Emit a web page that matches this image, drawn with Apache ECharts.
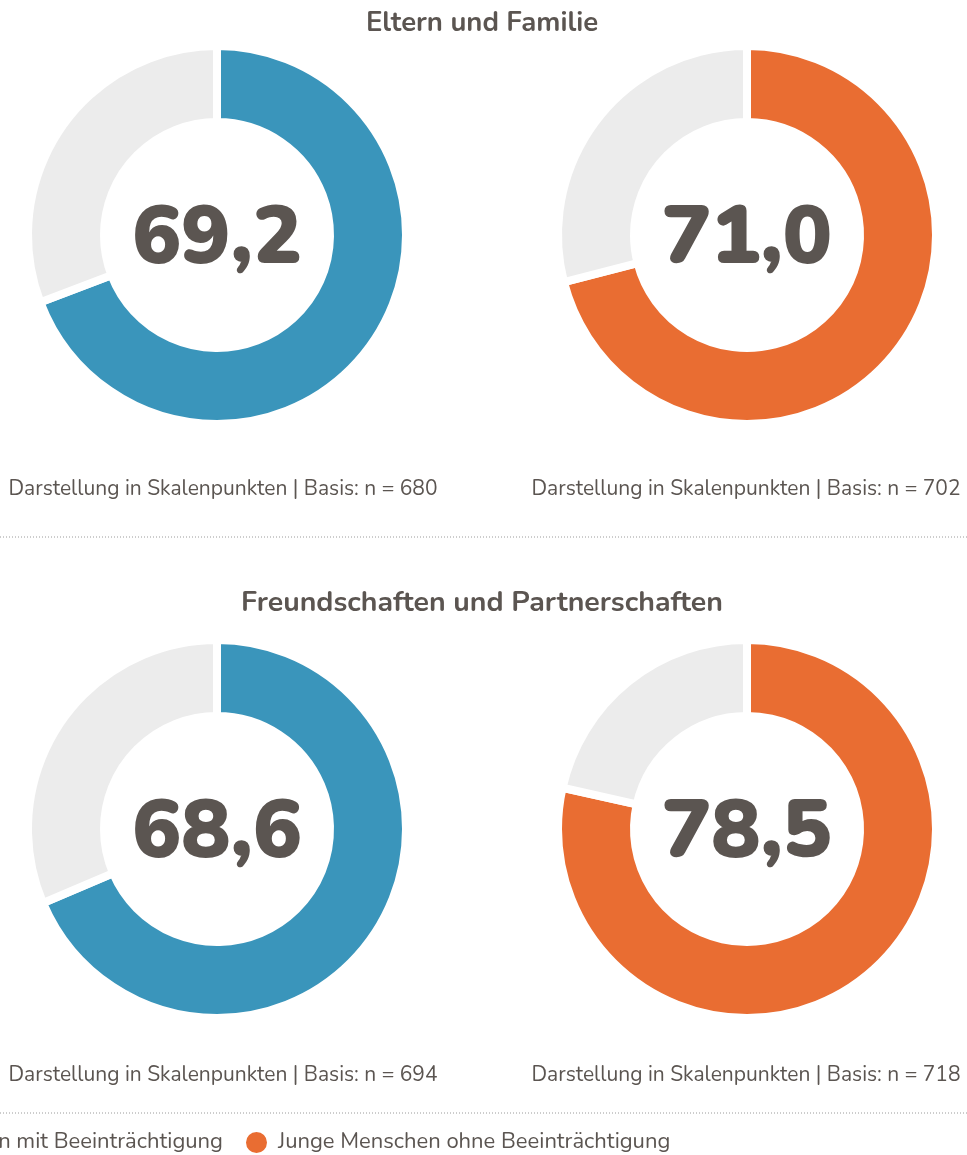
<!DOCTYPE html>
<html>
<head>
<meta charset="utf-8">
<script src="https://cdn.jsdelivr.net/npm/echarts@6/dist/echarts.min.js"></script>
<style>
html,body{margin:0;padding:0;background:#fff;}
#chart{width:967px;height:1155px;}
</style>
</head>
<body>
<div id="chart"></div>
<script>
// ---- data ----
const groups = ['Eltern und Familie', 'Freundschaften und Partnerschaften'];
const seriesNames = ['Junge Menschen mit Beeinträchtigung', 'Junge Menschen ohne Beeinträchtigung'];
const valuesMit = [69.2, 68.6];
const valuesOhne = [71.0, 78.5];
const nMit = [680, 694];
const nOhne = [702, 718];
const scaleMax = 100;
const captionText = 'Darstellung in Skalenpunkten | Basis: n = ';

// ---- style ----
const FONT = 'Nunito, Lato, "Noto Sans", sans-serif';
const TEXT = '#5b5551';
const colors = ['#3a95bb', '#e96d32'];
const REST = '#ececec';
const colX = [217, 747];
const rowY = [235, 829];
const captionX = [223, 746];
const captionY = [490, 1076];
const titleY = [24, 604];
const sepY = [537, 1113];

const chart = echarts.init(document.getElementById('chart'), null, {renderer: 'canvas'});

function fmt(v) { return v.toFixed(1).replace('.', ','); }

const series = [];
const graphic = [];
const valueSets = [valuesMit, valuesOhne];
const nSets = [nMit, nOhne];
const titleSizes = [27.5, 28.5];

groups.forEach((g, r) => {
  graphic.push({
    type: 'text', x: 482, y: titleY[r],
    style: {text: g, fontFamily: FONT, fontSize: titleSizes[r], fontWeight: 'bold', fill: TEXT,
            align: 'center', verticalAlign: 'middle'}
  });
  graphic.push({
    type: 'line', shape: {x1: 0, y1: sepY[r], x2: 967, y2: sepY[r]},
    style: {stroke: '#9a9a9a', lineWidth: 1, lineDash: [1, 2]}
  });
  [0, 1].forEach(c => {
    const v = valueSets[c][r];
    series.push({
      type: 'pie',
      name: 'donut-' + r + '-' + c,
      center: [colX[c], rowY[r]],
      radius: [113, 189],
      startAngle: 90,
      clockwise: true,
      animation: false,
      emphasis: {scale: false, label: {show: true}},
      labelLine: {show: false},
      itemStyle: {borderColor: '#fff', borderWidth: 8},
      data: [
        {name: seriesNames[c], value: v, itemStyle: {color: colors[c]},
         label: {show: true, position: 'center',
                 formatter: '{s| }\n{v|' + fmt(v) + '}',
                 rich: {
                   s: {fontSize: 1, lineHeight: 14},
                   v: {fontFamily: FONT, fontSize: 82, fontWeight: 900, color: TEXT, lineHeight: 90}
                 }}},
        {name: 'Rest', value: scaleMax - v, itemStyle: {color: REST}, label: {show: false}}
      ]
    });
    graphic.push({
      type: 'text', x: captionX[c], y: captionY[r],
      style: {text: captionText + nSets[c][r], fontFamily: FONT, fontSize: 21,
              fill: TEXT, align: 'center', verticalAlign: 'middle'}
    });
  });
});

// legend placement: second icon's left edge at x = 243
const LEG_FS = 22, ICON = 23, GAP = 21, PAD = 5;
const ctx = document.createElement('canvas').getContext('2d');
ctx.font = LEG_FS + 'px ' + FONT;
const w1 = ctx.measureText(seriesNames[0]).width;
const legendLeft = 243 - GAP - (ICON + 5 + PAD + w1);

chart.setOption({
  backgroundColor: '#fff',
  animation: false,
  legend: {
    data: seriesNames,
    left: legendLeft,
    top: 1130,
    width: 1400,
    icon: 'circle',
    itemWidth: ICON,
    itemHeight: ICON,
    itemGap: GAP,
    padding: 0,
    textStyle: {fontFamily: FONT, fontSize: LEG_FS, color: TEXT, padding: [3, 0, 0, PAD]}
  },
  graphic: graphic,
  series: series
});
</script>
</body>
</html>
